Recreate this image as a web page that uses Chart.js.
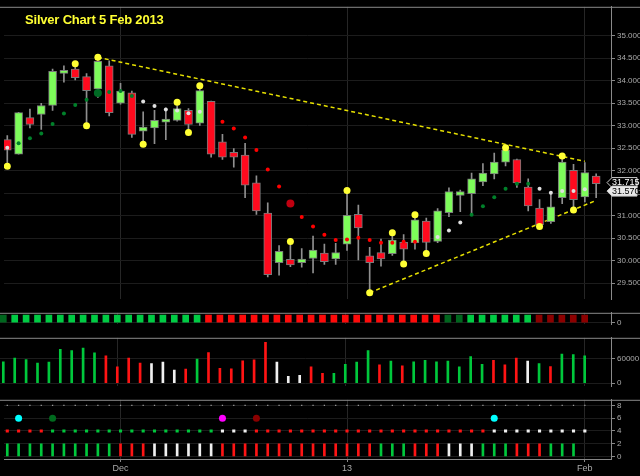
<!DOCTYPE html>
<html><head><meta charset="utf-8">
<script src="https://cdn.jsdelivr.net/npm/chart.js@4.4.1/dist/chart.umd.min.js"></script>
<style>
body{margin:0;background:#000;width:640px;height:476px;overflow:hidden;position:relative;font-family:"Liberation Sans",Arial,sans-serif}
canvas{position:absolute;left:0}
#title{position:absolute;left:25px;top:12px;color:#ffff33;font:bold 13px "Liberation Sans",Arial,sans-serif;z-index:5;letter-spacing:-0.2px}
</style></head><body>
<div id="title">Silver Chart 5 Feb 2013</div>
<canvas id="c1"></canvas><canvas id="c2"></canvas><canvas id="c3"></canvas><canvas id="c4"></canvas>
<script>
// ---- data ----
const opens =[32.69,32.37,33.18,33.25,33.45,34.16,34.26,34.09,33.82,34.33,33.50,33.73,32.88,32.95,33.08,33.12,33.34,33.06,33.54,32.64,32.41,32.35,31.73,31.06,29.96,30.03,29.96,30.05,30.17,30.04,30.37,31.03,30.11,30.18,30.16,30.41,30.40,30.88,30.43,31.07,31.45,31.49,31.75,31.93,32.19,32.25,31.64,31.17,30.87,31.40,32.01,31.42,31.88];
const highs =[32.78,33.30,33.37,33.50,34.26,34.33,34.33,34.16,34.51,34.44,33.94,33.77,33.31,33.34,33.39,33.45,33.38,33.83,33.55,32.81,32.49,32.61,31.89,31.29,30.34,30.38,30.27,30.55,30.37,30.39,31.50,31.24,30.30,30.48,30.58,30.58,30.95,30.95,31.16,31.62,31.57,31.95,32.16,32.39,32.54,32.26,31.82,31.36,31.52,32.26,32.14,32.18,31.93];
const lows  =[32.18,32.37,32.95,32.92,33.34,33.97,34.02,33.05,33.63,33.22,33.48,32.74,32.62,32.60,32.69,33.10,32.85,33.01,32.30,32.25,32.08,31.40,31.03,29.64,29.68,29.87,29.86,29.73,29.92,29.92,30.23,30.02,29.32,29.88,30.12,29.97,30.26,30.19,30.40,30.98,31.09,31.03,31.67,31.82,32.11,31.63,31.11,30.78,30.83,31.27,31.16,31.31,31.40];
const closes=[32.46,33.29,33.03,33.45,34.21,34.23,34.07,33.78,34.43,33.29,33.77,32.81,32.97,33.12,33.15,33.38,33.03,33.78,32.37,32.30,32.30,31.68,31.11,29.69,30.21,29.91,30.04,30.24,29.98,30.18,31.01,30.73,29.96,30.04,30.46,30.26,30.91,30.41,31.11,31.54,31.54,31.82,31.95,32.19,32.46,31.73,31.22,30.80,31.20,32.19,31.36,31.96,31.715];
const sarValues=[32.51,32.61,32.72,32.83,33.04,33.27,33.46,33.58,33.73,33.75,33.77,33.66,33.54,33.44,33.36,33.34,33.28,33.31,null,33.09,32.94,32.74,32.46,32.03,31.65,31.27,30.97,30.76,30.58,30.46,30.47,30.51,30.46,30.40,30.40,30.42,30.42,null,30.53,30.67,30.85,31.02,31.21,31.41,31.60,31.71,31.71,31.60,31.51,31.55,31.55,31.59,null];
const sarStates=["w","g","g","g","g","g","g","g","g","g","g","g","w","w","w","w","w","w","-","r","r","r","r","r","r","r","r","r","r","r","r","r","r","r","r","r","r","-","w","w","w","g","g","g","g","g","g","w","w","w","w","w","-"];
const sarBig=[8,25];
const pivotIdx=[0,6,7,8,12,15,16,17,25,30,32,34,35,36,37,44,47,49,50];
const pivotVal=[32.10,34.38,33.00,34.52,32.59,33.52,32.85,33.89,30.43,31.56,29.29,30.62,29.93,31.02,30.16,32.51,30.76,32.33,31.13];
const upperLine=[{x:8,y:34.52},{x:51,y:32.21}];
const lowerLine=[{x:32,y:29.29},{x:52,y:31.34}];
const priceTags=[31.715,31.570];
const trendStates=["D","G","G","G","G","G","G","G","G","G","G","G","G","G","G","G","G","G","R","R","R","R","R","R","R","R","R","R","R","R","R","R","R","R","R","R","R","R","R","D","D","G","G","G","G","G","G","M","M","M","M","M"];
const volumes=[51800,60600,56800,48600,51200,82100,79000,84600,73300,66300,39200,60600,48600,47400,51200,31600,34100,58100,73900,36000,34700,53700,56200,98500,51200,16400,18900,39200,23400,23400,45500,51200,79000,44200,53100,41700,51800,54900,51800,53100,39200,64400,45500,54900,44200,60600,53100,47400,39800,70100,68800,66300];
const volStates="gggggggggrrrrwwwrgrrrrrrwwwrrggggrgrgggggggrrrwgrg".split("");
const row4States="rrrrgggggggggggggggwwwrrrrrrrrrrrrrrrrrrrrrwwwwwwwww".split("");
const row6Idx=[1,4,19,22,43];
const row6Col=["c","dg","m","dr","c"];
const barStates="ggggggggggrrrwwwwwwrrrrrrrrrrrrrrgggrrrwwwgggrrrggg".split("");
const xTickIdx=[10,30,51];
const xTickLabels=["Dec","13","Feb"];

// ---- helpers ----
const N=closes.length;
const XMIN=-0.29, XMAX=53.31;
const GREEN='#7dfc5a', RED='#ff0a1e';
const COLS={g:'#00c83c',r:'#ff1414',w:'#f0f0f0',G:'#00cc44',D:'#00661e',R:'#ff0a0a',M:'#8c0000',c:'#00ffff',dg:'#006a1e',m:'#ff00ff',dr:'#8a0000'};
function setup(id,top,h){const c=document.getElementById(id);c.style.top=top+'px';c.width=640;c.height=h;c.style.width='640px';c.style.height=h+'px';return c;}
const frame={id:'frame',afterDraw(ch){const a=ch.chartArea,x=ch.ctx;x.save();x.strokeStyle='#8a8a8a';x.lineWidth=1;
  x.beginPath();x.moveTo(0,a.top+0.5);x.lineTo(640,a.top+0.5);x.moveTo(a.right+0.5,a.top);x.lineTo(a.right+0.5,a.bottom);x.stroke();x.restore();}};
function xScale(showTicks){return {type:'linear',min:XMIN,max:XMAX,offset:false,display:true,
  afterBuildTicks(s){s.ticks=xTickIdx.map(v=>({value:v}));},
  afterFit(s){s.height=showTicks?17:0;},
  ticks:{display:showTicks,color:'#aaa',font:{size:9},padding:1,maxRotation:0,autoSkip:false,callback:(v)=>{const k=xTickIdx.indexOf(v);return k<0?'':xTickLabels[k];}},
  grid:{offset:false,color:'#262626',drawTicks:showTicks,tickLength:3,tickColor:'#888'},border:{display:showTicks,color:'#888'}};}
function yScale(min,max,ticksFn,fmt){return {position:'right',min,max,
  afterBuildTicks(s){s.ticks=ticksFn().map(v=>({value:v}));},
  afterFit(s){s.width=29;},
  ticks:{color:'#aaa',font:{size:8},padding:2,callback:fmt},
  grid:{color:'#1c1c1c',tickLength:4,tickColor:'#888'},border:{color:'#888'}};}
const base={responsive:false,animation:false,devicePixelRatio:1,plugins:{legend:{display:false},tooltip:{enabled:false}},events:[]};
const idx=[...Array(N).keys()];

// ---- main price chart ----
const priceTicks=[];for(let v=29.5;v<=35.001;v+=0.5)priceTicks.push(+v.toFixed(1));
const tagPlugin={id:'tags',afterDraw(ch){const y=ch.scales.y,x=ch.ctx;x.save();x.font='9px "Liberation Sans",Arial';
  priceTags.forEach((p,k)=>{const py=y.getPixelForValue(p)+(k?1:-1);x.fillStyle=k?'#e8e8e8':'#000';x.strokeStyle='#ccc';
    x.beginPath();x.moveTo(607,py);x.lineTo(612,py-5);x.lineTo(637,py-5);x.lineTo(637,py+5);x.lineTo(612,py+5);x.closePath();x.fill();x.stroke();
    x.fillStyle=k?'#000':'#fff';x.textBaseline='middle';x.fillText(p.toFixed(3),612,py);});x.restore();}};
new Chart(setup('c1',0,306),{type:'bar',data:{datasets:[
  {type:'line',data:upperLine,borderColor:'#e6e000',borderWidth:1.5,borderDash:[4,3],pointRadius:0,order:5},
  {type:'line',data:lowerLine,borderColor:'#e6e000',borderWidth:1.5,borderDash:[4,3],pointRadius:0,order:5},
  {data:idx.map(i=>({x:i,y:[lows[i],highs[i]]})),backgroundColor:'#8f8f8f',barThickness:1,grouped:false,order:4},
  {data:idx.map(i=>({x:i,y:[opens[i],closes[i]]})),backgroundColor:idx.map(i=>closes[i]>=opens[i]?GREEN:RED),borderColor:'#7a7a7a',borderWidth:1,borderSkipped:false,barThickness:8,grouped:false,order:3},
  {type:'scatter',data:idx.filter(i=>sarValues[i]!==null).map(i=>({x:i,y:sarValues[i]})),
    pointBackgroundColor:idx.filter(i=>sarValues[i]!==null).map(i=>sarBig.includes(i)?(sarStates[i]=='g'?'#006a24':'#c00010'):({g:'#00802a',w:'#e0e0e0',r:'#ff0000'})[sarStates[i]]),
    pointRadius:idx.filter(i=>sarValues[i]!==null).map(i=>sarBig.includes(i)?4:2),pointBorderWidth:0,order:1},
  {type:'scatter',data:pivotIdx.map((i,k)=>({x:i,y:pivotVal[k]})),pointBackgroundColor:'#ffff33',pointBorderWidth:0,pointRadius:3.5,order:0}
]},options:{...base,layout:{padding:0},scales:{x:{...xScale(false)},y:yScale(29.146,35.643,()=>priceTicks,v=>v.toFixed(3))}},plugins:[frame,tagPlugin]});

// ---- trend bar panel ----
new Chart(setup('c2',306,25),{type:'bar',data:{datasets:[
  {data:trendStates.map((s,i)=>({x:i,y:1})),backgroundColor:trendStates.map(s=>COLS[s]),barThickness:6}
]},options:{...base,scales:{x:xScale(false),y:yScale(-0.2,1.3,()=>[0],v=>String(v))}},plugins:[frame]});

// ---- volume panel ----
new Chart(setup('c3',331,62),{type:'bar',data:{datasets:[
  {data:volumes.map((v,i)=>({x:i,y:v})),backgroundColor:volStates.map(s=>COLS[s]),barThickness:2}
]},options:{...base,scales:{x:xScale(false),y:yScale(-7570,109760,()=>[0,60000],v=>String(v))}},plugins:[frame]});

// ---- indicator panel ----
const M=trendStates.length;const idx2=[...Array(M).keys()];
new Chart(setup('c4',393,83),{type:'bar',data:{datasets:[
  {data:barStates.map((s,i)=>({x:i,y:2})),backgroundColor:barStates.map(s=>COLS[s]),barThickness:2},
  {type:'scatter',data:row4States.map((s,i)=>({x:i,y:4})),pointBackgroundColor:row4States.map(s=>COLS[s]),pointStyle:'rect',pointRadius:2.2,pointBorderWidth:0},
  {type:'scatter',data:idx2.map(i=>({x:i,y:8})),pointBackgroundColor:'#9a9a9a',pointStyle:'rect',pointRadius:0.9,pointBorderWidth:0},
  {type:'scatter',data:row6Idx.map(i=>({x:i,y:6})),pointBackgroundColor:row6Col.map(s=>COLS[s]),pointRadius:3.5,pointBorderWidth:0}
]},options:{...base,layout:{padding:{top:2}},scales:{x:xScale(true),y:yScale(-0.39,8.87,()=>[0,2,4,6,8],v=>String(v))}},plugins:[frame]});
</script></body></html>
